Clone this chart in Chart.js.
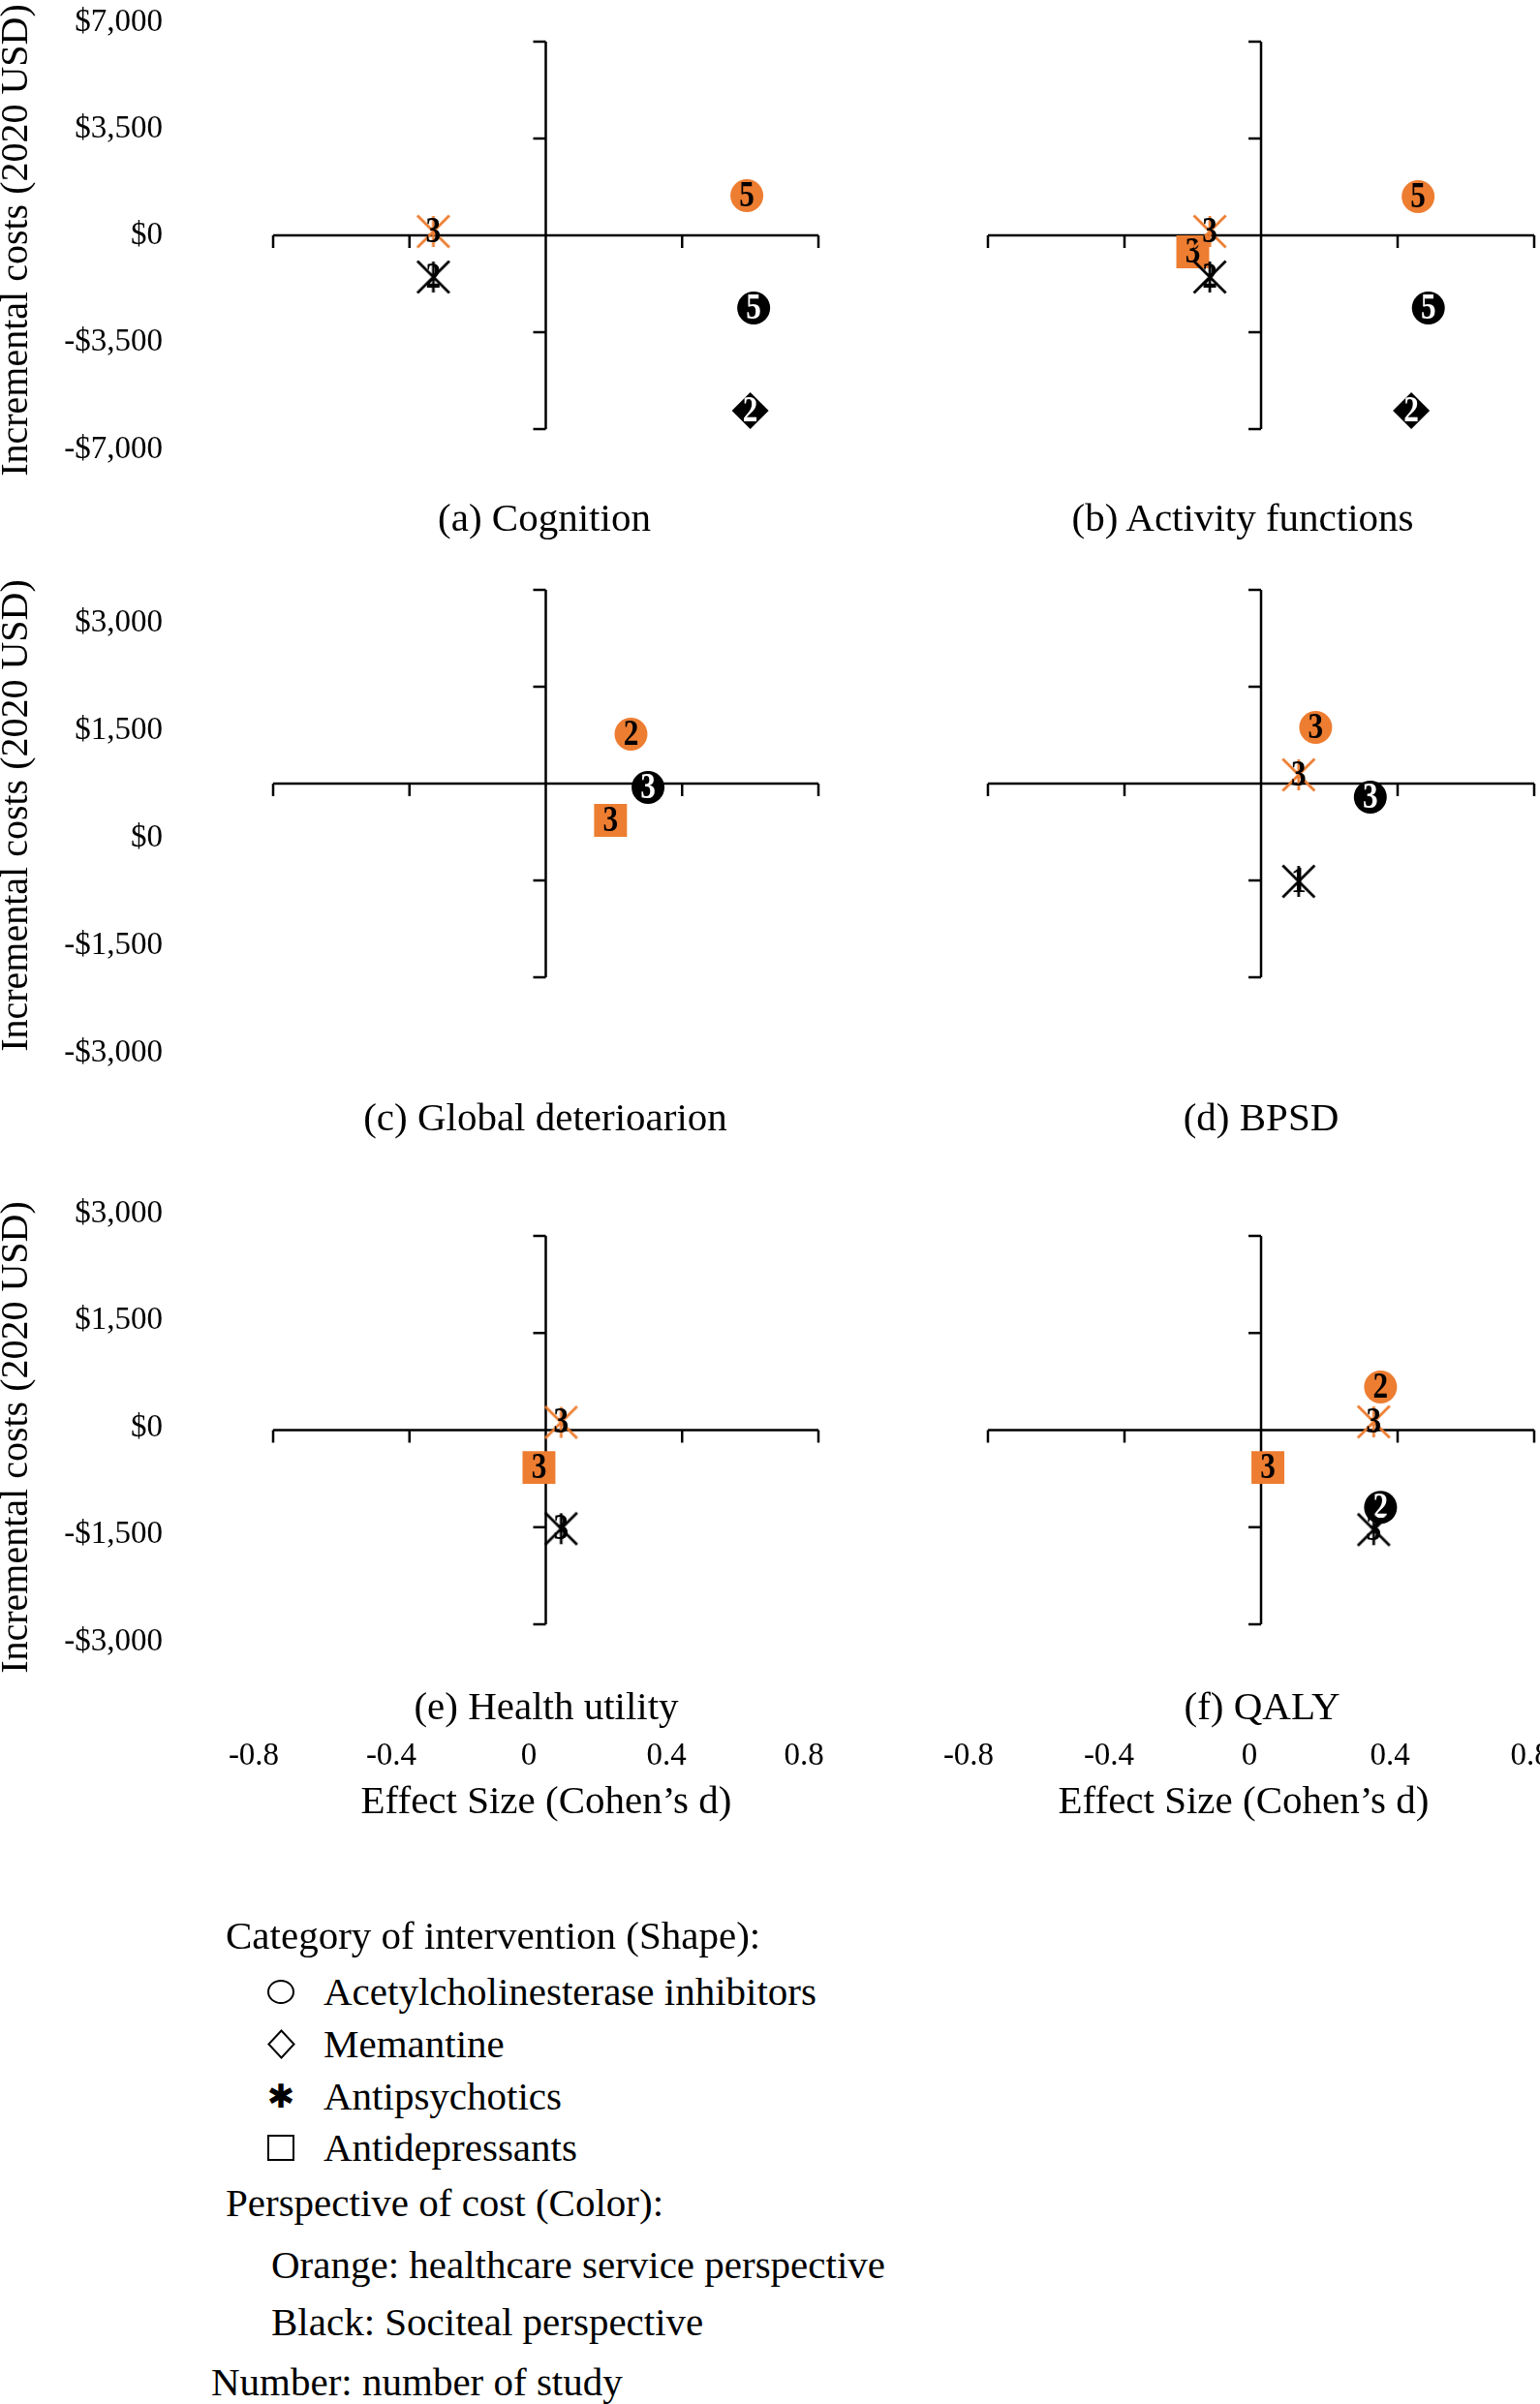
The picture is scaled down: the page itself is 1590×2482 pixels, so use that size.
<!DOCTYPE html>
<html>
<head>
<meta charset="utf-8">
<title>Incremental cost vs effect size</title>
<script src="https://cdn.jsdelivr.net/npm/chart.js@4.4.1/dist/chart.umd.min.js"></script>
<style>
  html, body { margin: 0; padding: 0; width: 1590px; height: 2482px; overflow: hidden; background: #fff; }
  #page { position: relative; width: 1590px; height: 2482px; overflow: hidden;
          font-family: 'Liberation Serif', 'Times New Roman', serif; color: #000; }
  canvas { position: absolute; }
  .caption { position: absolute; font-size: 41px; line-height: 41px; white-space: nowrap; transform: translateX(-50%); }
  .legend { position: absolute; font-size: 41px; line-height: 41px; white-space: nowrap; }
  .sym { position: absolute; box-sizing: border-box; border: 2px solid #000; }
  .star { position: absolute; font-family: 'DejaVu Sans', sans-serif; font-size: 34px; line-height: 34px; transform: translate(-50%, -50%); }
</style>
</head>
<body>
<div id="page"></div>
<script>
// -------------------------
// Values
// -------------------------
const effectTicks = [-0.8, -0.4, 0, 0.4, 0.8];
const costTicksWide = [-7000, -3500, 0, 3500, 7000];
const costTicksNarrow = [-3000, -1500, 0, 1500, 3000];

const captions = ['(a) Cognition', '(b) Activity functions', '(c) Global deterioarion',
                  '(d) BPSD', '(e) Health utility', '(f) QALY'];

// (a) Cognition
const cognitionEffect = [-0.33, -0.33, 0.59, 0.61, 0.60];
const cognitionCost = [140, -1505, 1435, -2625, -6335];
const cognitionStudies = [3, 2, 5, 5, 2];
const cognitionCategory = ['Antipsychotic', 'Antipsychotic', 'AChEI', 'AChEI', 'Memantine'];
const cognitionPerspective = ['Healthcare', 'Societal', 'Healthcare', 'Societal', 'Societal'];

// (b) Activity functions
const activityEffect = [-0.15, -0.20, -0.15, 0.46, 0.49, 0.44];
const activityCost = [140, -595, -1505, 1400, -2625, -6335];
const activityStudies = [3, 3, 2, 5, 5, 2];
const activityCategory = ['Antipsychotic', 'Antidepressant', 'Antipsychotic', 'AChEI', 'AChEI', 'Memantine'];
const activityPerspective = ['Healthcare', 'Healthcare', 'Societal', 'Healthcare', 'Societal', 'Societal'];

// (c) Global deterioration
const globalEffect = [0.25, 0.30, 0.19];
const globalCost = [765, -60, -570];
const globalStudies = [2, 3, 3];
const globalCategory = ['AChEI', 'AChEI', 'Antidepressant'];
const globalPerspective = ['Healthcare', 'Societal', 'Healthcare'];

// (d) BPSD
const bpsdEffect = [0.16, 0.11, 0.32, 0.11];
const bpsdCost = [870, 135, -210, -1515];
const bpsdStudies = [3, 3, 3, 1];
const bpsdCategory = ['AChEI', 'Antipsychotic', 'AChEI', 'Antipsychotic'];
const bpsdPerspective = ['Healthcare', 'Healthcare', 'Societal', 'Societal'];

// (e) Health utility
const utilityEffect = [0.045, -0.02, 0.045];
const utilityCost = [120, -578, -1523];
const utilityStudies = [3, 3, 3];
const utilityCategory = ['Antipsychotic', 'Antidepressant', 'Antipsychotic'];
const utilityPerspective = ['Healthcare', 'Healthcare', 'Societal'];

// (f) QALY
const qalyEffect = [0.35, 0.33, 0.02, 0.35, 0.33];
const qalyCost = [667, 128, -578, -1193, -1538];
const qalyStudies = [2, 3, 3, 2, 3];
const qalyCategory = ['AChEI', 'Antipsychotic', 'Antidepressant', 'AChEI', 'Antipsychotic'];
const qalyPerspective = ['Healthcare', 'Healthcare', 'Healthcare', 'Societal', 'Societal'];

// legend
const categoryKeys = ['AChEI', 'Memantine', 'Antipsychotic', 'Antidepressant'];
const categoryNames = ['Acetylcholinesterase inhibitors', 'Memantine', 'Antipsychotics', 'Antidepressants'];
const perspectiveNotes = ['Orange: healthcare service perspective', 'Black: Sociteal perspective'];

// -------------------------
// Layout and style
// -------------------------
const FONT = "'Liberation Serif', 'Times New Roman', serif";
const ORANGE = '#ED7D31';
const PAD = 80;        // layout padding round every plot
const Y_AXIS_W = 200;  // room for cost labels + title
const X_AXIS_H = 170;  // room for effect labels + title

Chart.defaults.font.family = FONT;
Chart.defaults.color = '#000';

// page px: chart area, where -0.8 / 0.8 ticks sit, where their labels sit
const columns = [
  { area: [200, 928], axis: [282, 845], labels: [262, 830] },
  { area: [900, 1668], axis: [1020, 1584], labels: [1000, 1580] }
];
// page px: chart area, where top / bottom ticks sit, where their labels sit
const rows = [
  { area: [0, 496], axis: [43, 443], labels: [23, 464], ticks: costTicksWide },
  { area: [570, 1114], axis: [609, 1009], labels: [643, 1087], ticks: costTicksNarrow },
  { area: [1238, 1730], axis: [1276, 1677], labels: [1253, 1695], ticks: costTicksNarrow }
];

const panels = [
  { col: 0, row: 0, at: [562, 534], effect: cognitionEffect, cost: cognitionCost, studies: cognitionStudies, category: cognitionCategory, perspective: cognitionPerspective },
  { col: 1, row: 0, at: [1283, 534], effect: activityEffect, cost: activityCost, studies: activityStudies, category: activityCategory, perspective: activityPerspective },
  { col: 0, row: 1, at: [563, 1153], effect: globalEffect, cost: globalCost, studies: globalStudies, category: globalCategory, perspective: globalPerspective },
  { col: 1, row: 1, at: [1302, 1153], effect: bpsdEffect, cost: bpsdCost, studies: bpsdStudies, category: bpsdCategory, perspective: bpsdPerspective },
  { col: 0, row: 2, at: [564, 1761], effect: utilityEffect, cost: utilityCost, studies: utilityStudies, category: utilityCategory, perspective: utilityPerspective },
  { col: 1, row: 2, at: [1303, 1761], effect: qalyEffect, cost: qalyCost, studies: qalyStudies, category: qalyCategory, perspective: qalyPerspective }
];

// value range of a scale whose v0 sits at pixel p0 and v1 at p1, over pixels a..b
function bounds(v0, v1, p0, p1, a, b) {
  const k = (v1 - v0) / (p1 - p0);
  const va = v0 + (a - p0) * k, vb = v0 + (b - p0) * k;
  return { min: Math.min(va, vb), max: Math.max(va, vb) };
}

// Excel-style star marker: an x with a vertical bar
function starMarker(color) {
  const c = document.createElement('canvas');
  c.width = 40; c.height = 40;
  const g = c.getContext('2d');
  g.strokeStyle = color; g.lineWidth = 2.75;
  g.beginPath();
  g.moveTo(3.5, 3.5); g.lineTo(36.5, 36.5);
  g.moveTo(36.5, 3.5); g.lineTo(3.5, 36.5);
  g.moveTo(20, 4); g.lineTo(20, 36);
  g.stroke();
  return c;
}
const stars = { Healthcare: starMarker(ORANGE), Societal: starMarker('#000') };
const fills = { Healthcare: ORANGE, Societal: '#000' };

const markers = {
  Antipsychotic: { style: p => stars[p], radius: 17 },
  Antidepressant: { style: () => 'rect', radius: 24 },
  Memantine: { style: () => 'rectRot', radius: 19 },
  AChEI: { style: () => 'circle', radius: 17 }
};
const drawOrder = ['Antipsychotic', 'Antidepressant', 'Memantine', 'AChEI'];

function buildDatasets(p) {
  return drawOrder.map(cat => {
    const idx = p.category.map((c, i) => (c === cat ? i : -1)).filter(i => i >= 0);
    const m = markers[cat];
    return {
      label: cat,
      data: idx.map(i => ({ x: p.effect[i], y: p.cost[i] })),
      studies: idx.map(i => p.studies[i]),
      labelColors: idx.map(i => (p.perspective[i] === 'Societal' && (cat === 'AChEI' || cat === 'Memantine')) ? '#fff' : '#000'),
      pointStyle: idx.map(i => m.style(p.perspective[i])),
      pointRadius: m.radius,
      pointBackgroundColor: idx.map(i => fills[p.perspective[i]]),
      pointBorderWidth: 0,
      pointHoverRadius: m.radius,
      showLine: false
    };
  }).filter(d => d.data.length);
}

// -------------------------
// Plugins
// -------------------------
const crossAxes = {
  id: 'crossAxes',
  beforeDatasetsDraw(chart, args, opts) {
    const { x, y } = chart.scales;
    const ctx = chart.ctx;
    const x0 = x.getPixelForValue(0), y0 = y.getPixelForValue(0);
    const xt = opts.xTicks, yt = opts.yTicks;
    ctx.save();
    ctx.strokeStyle = '#000';
    ctx.lineWidth = 2.5;
    ctx.beginPath();
    ctx.moveTo(x.getPixelForValue(xt[0]), y0);
    ctx.lineTo(x.getPixelForValue(xt[xt.length - 1]), y0);
    xt.forEach(v => { const px = x.getPixelForValue(v); ctx.moveTo(px, y0); ctx.lineTo(px, y0 + 13); });
    ctx.moveTo(x0, y.getPixelForValue(yt[0]));
    ctx.lineTo(x0, y.getPixelForValue(yt[yt.length - 1]));
    yt.forEach(v => { const py = y.getPixelForValue(v); ctx.moveTo(x0, py); ctx.lineTo(x0 - 13, py); });
    ctx.stroke();
    ctx.restore();
  }
};

// study counts, a bit tall and narrow like the original's digits
const studyLabels = {
  id: 'studyLabels',
  afterDatasetDraw(chart, args) {
    const ds = chart.data.datasets[args.index];
    const ctx = chart.ctx;
    args.meta.data.forEach((pt, i) => {
      ctx.save();
      ctx.translate(pt.x, pt.y + 1);
      ctx.scale(0.92, 1.12);
      ctx.font = `bold 34px ${FONT}`;
      ctx.textAlign = 'center';
      ctx.textBaseline = 'middle';
      ctx.fillStyle = ds.labelColors[i];
      ctx.fillText(String(ds.studies[i]), 0, 0);
      ctx.restore();
    });
  }
};

// -------------------------
// Build the six planes
// -------------------------
const page = document.getElementById('page');

panels.forEach((p, k) => {
  const col = columns[p.col], row = rows[p.row];
  const hasY = p.col === 0, hasX = p.row === 2;

  const left = col.area[0] - PAD - (hasY ? Y_AXIS_W : 0);
  const width = col.area[1] + PAD - left;
  const top = row.area[0] - PAD;
  const height = row.area[1] + (hasX ? X_AXIS_H : 0) + PAD - top;

  const canvas = document.createElement('canvas');
  canvas.width = width; canvas.height = height;
  canvas.style.left = left + 'px'; canvas.style.top = top + 'px';
  canvas.style.width = width + 'px'; canvas.style.height = height + 'px';
  page.appendChild(canvas);

  const yMax = row.ticks[row.ticks.length - 1];
  const scales = {
    x: Object.assign({ type: 'linear', display: false },
      bounds(-0.8, 0.8, col.axis[0], col.axis[1], col.area[0], col.area[1])),
    y: Object.assign({ type: 'linear', display: false },
      bounds(yMax, -yMax, row.axis[0], row.axis[1], row.area[0], row.area[1]))
  };

  if (hasY) {
    scales.yl = Object.assign({
      type: 'linear', position: 'left', display: true,
      grid: { display: false, drawTicks: false },
      border: { display: false },
      ticks: {
        autoSkip: false, padding: 32, color: '#000', font: { size: 33 },
        callback: v => (v < 0 ? '-$' : '$') + Math.abs(v).toLocaleString('en-US')
      },
      title: {
        display: true, text: 'Incremental costs (2020 USD)', color: '#000', padding: 0,
        font: { size: 40, lineHeight: 0.85 }
      },
      afterBuildTicks: s => { s.ticks = row.ticks.map(v => ({ value: v })); },
      afterFit: s => { s.width = Y_AXIS_W; }
    }, bounds(yMax, -yMax, row.labels[0], row.labels[1], row.area[0], row.area[1]));
  }

  if (hasX) {
    scales.xl = Object.assign({
      type: 'linear', position: 'bottom', display: true,
      grid: { display: false, drawTicks: false },
      border: { display: false },
      ticks: {
        autoSkip: false, padding: 64, maxRotation: 0, color: '#000', font: { size: 33 },
        callback: v => String(v)
      },
      title: {
        display: true, text: 'Effect Size (Cohen’s d)', color: '#000',
        padding: { top: 0, bottom: 14 }, font: { size: 41 }
      },
      afterBuildTicks: s => { s.ticks = effectTicks.map(v => ({ value: v })); },
      afterFit: s => { s.height = X_AXIS_H; }
    }, bounds(-0.8, 0.8, col.labels[0], col.labels[1], col.area[0], col.area[1]));
  }

  new Chart(canvas, {
    type: 'scatter',
    data: { datasets: buildDatasets(p) },
    options: {
      responsive: false,
      animation: false,
      events: [],
      layout: { padding: PAD },
      scales,
      plugins: {
        legend: { display: false },
        tooltip: { enabled: false },
        crossAxes: { xTicks: effectTicks, yTicks: row.ticks }
      }
    },
    plugins: [crossAxes, studyLabels]
  });

  const cap = document.createElement('div');
  cap.className = 'caption';
  cap.textContent = captions[k];
  cap.style.left = p.at[0] + 'px';
  cap.style.top = (p.at[1] - 20.5) + 'px';
  page.appendChild(cap);
});

// -------------------------
// Legend (plain text below the planes)
// -------------------------
function addText(text, x, cy) {
  const d = document.createElement('div');
  d.className = 'legend';
  d.textContent = text;
  d.style.left = x + 'px';
  d.style.top = (cy - 20.5) + 'px';
  page.appendChild(d);
}
function addBox(cx, cy, w, h, extra) {
  const s = document.createElement('div');
  s.className = 'sym';
  s.style.left = (cx - w / 2) + 'px'; s.style.top = (cy - h / 2) + 'px';
  s.style.width = w + 'px'; s.style.height = h + 'px';
  Object.assign(s.style, extra || {});
  page.appendChild(s);
}

addText('Category of intervention (Shape):', 233, 1998);
const legendRows = [2056, 2110, 2164, 2217];
categoryKeys.forEach((key, i) => {
  const cy = legendRows[i];
  if (key === 'AChEI') addBox(290, cy, 28, 25, { borderRadius: '50%' });
  if (key === 'Memantine') addBox(290, cy, 21, 21, { transform: 'scale(0.97, 1.05) rotate(45deg)' });
  if (key === 'Antidepressant') addBox(290, cy, 28, 27);
  if (key === 'Antipsychotic') {
    const s = document.createElement('div');
    s.className = 'star';
    s.textContent = '✱';
    s.style.left = '290px'; s.style.top = cy + 'px';
    page.appendChild(s);
  }
  addText(categoryNames[i], 334, cy);
});
addText('Perspective of cost (Color):', 233, 2274);
addText(perspectiveNotes[0], 280, 2338);
addText(perspectiveNotes[1], 280, 2397);
addText('Number: number of study', 218, 2459);
</script>
</body>
</html>
